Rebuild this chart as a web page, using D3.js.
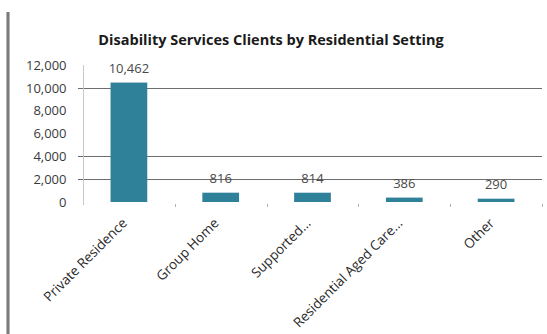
<!DOCTYPE html>
<html>
<head>
<meta charset="utf-8">
<script src="https://cdn.jsdelivr.net/npm/d3@7"></script>
<style>
  html, body { margin: 0; padding: 0; background: #fff; }
  svg { display: block; }
</style>
</head>
<body>
<svg id="chart" width="547" height="334"></svg>
<script>
// Clients by residential setting
const categories = ["Private Residence", "Group Home", "Supported...", "Residential Aged Care...", "Other"];
const clients = [10462, 816, 814, 386, 290];
const yTicks = [0, 2000, 4000, 6000, 8000, 10000, 12000];
const gridValues = [2000, 4000, 10000];

const svg = d3.select("#chart");
const W = 547, H = 334;
const plot = { left: 83, right: 542, top: 65, bottom: 202 };
const fontFamily = "'Open Sans', 'Liberation Sans', sans-serif";

// page border on the left
svg.append("rect").attr("x", 6).attr("y", 12).attr("width", 4).attr("height", H - 12).attr("fill", "#b5b5b5");
svg.append("rect").attr("x", 7).attr("y", 12).attr("width", 2).attr("height", H - 12).attr("fill", "#7a7a7a");

const x = d3.scaleBand().domain(categories).range([plot.left, plot.right]).paddingInner(0.6).paddingOuter(0.3);
const y = d3.scaleLinear().domain([0, 12000]).range([plot.bottom, plot.top]);

// title
svg.append("text")
  .attr("x", 271).attr("y", 45)
  .attr("text-anchor", "middle")
  .attr("font-family", fontFamily)
  .attr("font-weight", "bold")
  .attr("font-size", 14.5)
  .attr("fill", "#1a1a1a")
  .text("Disability Services Clients by Residential Setting");

// horizontal gridlines
svg.append("g").selectAll("line").data(gridValues).join("line")
  .attr("x1", plot.left - 5).attr("x2", plot.right)
  .attr("y1", d => Math.round(y(d)) + 0.5).attr("y2", d => Math.round(y(d)) + 0.5)
  .attr("stroke", "#6e6e6e").attr("stroke-width", 1);

// y axis
const yAxis = d3.axisLeft(y).tickValues(yTicks).tickSize(0).tickPadding(17)
  .tickFormat(d3.format(","));
const yG = svg.append("g").attr("transform", `translate(${plot.left + 0.5},0)`).call(yAxis);
yG.select(".domain").attr("stroke", "#c8c8c8").attr("d", `M0,${plot.top}V${plot.bottom + 3}`);
yG.selectAll("text").attr("font-family", fontFamily).attr("font-size", 13).attr("fill", "#3a3a3a");

// category separators below the plot
const seps = categories.map((c, i) => plot.left + (plot.right - plot.left) * (i + 1) / categories.length);
svg.append("g").selectAll("line").data(seps).join("line")
  .attr("x1", d => Math.round(d) + 0.5).attr("x2", d => Math.round(d) + 0.5)
  .attr("y1", plot.bottom + 2).attr("y2", plot.bottom + 5)
  .attr("stroke", "#b0b0b0");

// bars
svg.append("g").selectAll("rect").data(categories).join("rect")
  .attr("x", d => x(d))
  .attr("width", x.bandwidth())
  .attr("y", (d, i) => y(clients[i]))
  .attr("height", (d, i) => y(0) - y(clients[i]))
  .attr("fill", "#2f8099");

// value labels
svg.append("g").selectAll("text").data(categories).join("text")
  .attr("x", d => x(d) + x.bandwidth() / 2)
  .attr("y", (d, i) => y(clients[i]) - 10)
  .attr("text-anchor", "middle")
  .attr("font-family", fontFamily)
  .attr("font-size", 13)
  .attr("fill", "#4a4a4a")
  .text((d, i) => d3.format(",")(clients[i]));

// rotated category labels
svg.append("g").selectAll("text").data(categories).join("text")
  .attr("transform", d => `translate(${x(d) + x.bandwidth() / 2 - 1},${plot.bottom + 22}) rotate(-45)`)
  .attr("text-anchor", "end")
  .attr("font-family", fontFamily)
  .attr("font-size", 13.5)
  .attr("fill", "#2a2a2a")
  .text(d => d);
</script>
</body>
</html>
